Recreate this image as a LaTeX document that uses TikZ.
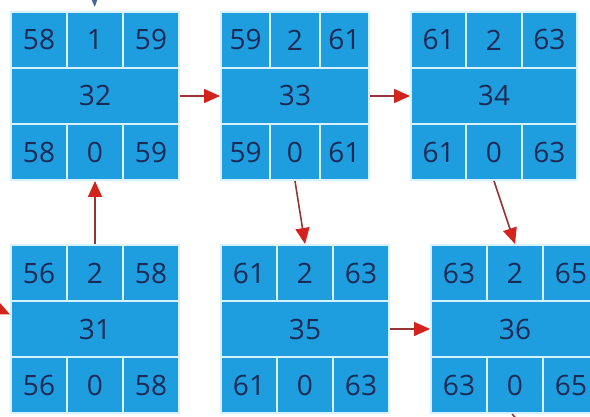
\documentclass[tikz,border=0pt]{standalone}
\usepackage{fontspec}
\setmainfont{Open Sans}
\usetikzlibrary{arrows.meta,calc}
\definecolor{cellblue}{RGB}{30,157,223}
\definecolor{cellline}{RGB}{215,242,255}
\definecolor{textnavy}{RGB}{27,42,85}
\definecolor{linebrown}{RGB}{150,55,55}
\definecolor{headred}{RGB}{212,34,28}
\definecolor{markblue}{RGB}{70,105,150}
\tikzset{
  cellbox/.style={rectangle, fill=cellblue, draw=cellline, line width=2pt,
    inner sep=0pt, minimum height=56pt, text=textnavy,
    font=\fontsize{28}{30}\selectfont},
  conn/.style={draw=linebrown, line width=1.6pt,
    -{Triangle[length=16pt,width=14pt,color=headred]}},
  tailconn/.style={draw=linebrown, line width=1.6pt},
  markconn/.style={draw=markblue, line width=1pt,
    -{Triangle[length=8pt,width=6pt,color=markblue]}}
}
% #1 name, #2 x, #3 y, #4 width, #5 left, #6 top middle, #7 right, #8 middle
\newcommand\cellblock[8]{%
  \pgfmathsetmacro\cw{#4/3}%
  \node[cellbox, minimum width=\cw pt, anchor=north west] (#1-tl) at (#2,#3) {#5};
  \node[cellbox, minimum width=\cw pt, anchor=north west] (#1-tm) at ({#2+\cw},#3) {#6};
  \node[cellbox, minimum width=\cw pt, anchor=north west] (#1-tr) at ({#2+2*\cw},#3) {#7};
  \node[cellbox, minimum width=#4pt, anchor=north west] (#1-m) at (#2,{#3+56}) {#8};
  \node[cellbox, minimum width=\cw pt, anchor=north west] (#1-bl) at (#2,{#3+112}) {#5};
  \node[cellbox, minimum width=\cw pt, anchor=north west] (#1-bm) at ({#2+\cw},{#3+112}) {0};
  \node[cellbox, minimum width=\cw pt, anchor=north west] (#1-br) at ({#2+2*\cw},{#3+112}) {#7};
}
\begin{document}
\begin{tikzpicture}[x=1pt,y=-1pt]
\useasboundingbox (0,0) rectangle (590,417);
\clip (0,0) rectangle (590,417);
\fill[white] (0,0) rectangle (590,417);

\cellblock{b32}{10}{11}{168}{58}{1}{59}{32}
\cellblock{b33}{220}{11}{148}{59}{2}{61}{33}
\cellblock{b34}{410}{11}{166}{61}{2}{63}{34}
\cellblock{b31}{10}{244}{168}{56}{2}{58}{31}
\cellblock{b35}{220}{244}{168}{61}{2}{63}{35}
\cellblock{b36}{430}{244}{168}{63}{2}{65}{36}

\coordinate (topsrc) at (94,-12);
\coordinate (leftsrc) at (-30,296);
\coordinate (outend) at (528,432);

\draw[conn] (b32-m.east) -- (b33-m.west);
\draw[conn] (b33-m.east) -- (b34-m.west);
\draw[conn] (b31-tm.north) -- (b32-bm.south);
\draw[conn] (b33-bm.south) -- (b35-tm.north);
\draw[conn] (b34-bm.south) -- (b36-tm.north);
\draw[conn] (b35-m.east) -- (b36-m.west);
\draw[conn] (leftsrc) -- ($(b31-m.north west)!0.25!(b31-m.south west)$);
\draw[tailconn] ($(b36-bm.south west)!0.45!(b36-bm.south east)$) -- (outend);
\draw[markconn, shorten >=4pt] (topsrc) -- (b32-tm.north);
\end{tikzpicture}
\end{document}
